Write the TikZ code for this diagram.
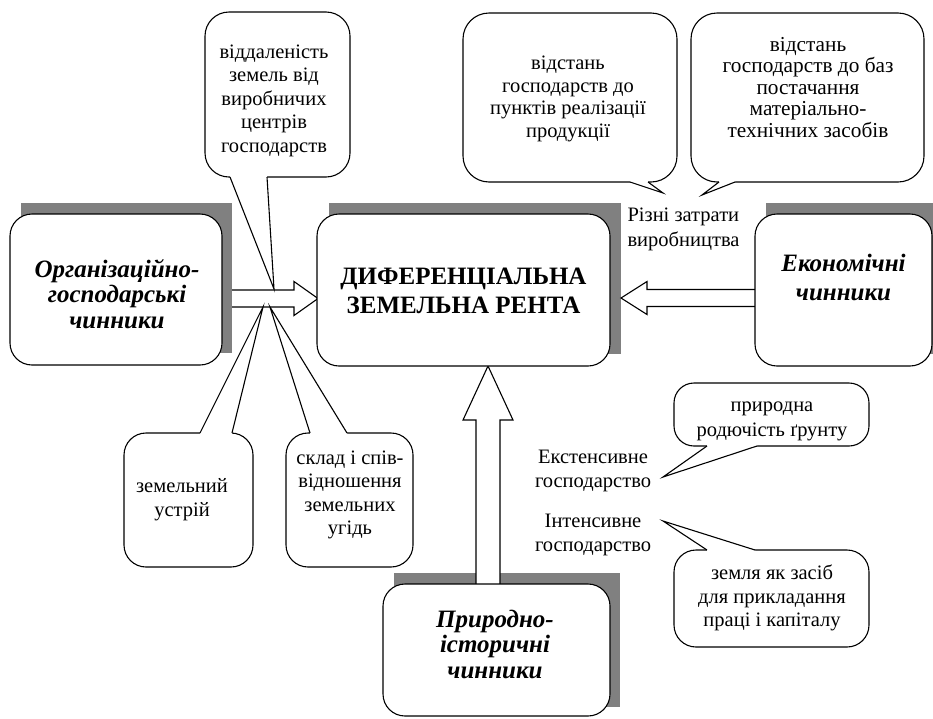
\documentclass[tikz,border=0pt]{standalone}
\usepackage{fontspec}
\setmainfont{Liberation Serif}
\definecolor{shadowgray}{HTML}{808080}
% multi-line block whose baseline is the first line; exact \baselineskip
\newcommand{\mltab}[2][\hfil]{\vtop{\lineskiplimit=-100pt\relax\let\\\cr\halign{#1##\hfil\cr#2\crcr}}}
% tail of a callout: base x1,y1 / x2,y2 ; tip tx,ty ; inward shift dy
\newcommand{\calltail}[7]{%
  \fill[white] (#1,#2+#7) -- (#1,#2) -- (#5,#6) -- (#3,#4) -- (#3,#4+#7) -- cycle;
  \draw (#1,#2) -- (#5,#6) -- (#3,#4);}
\begin{document}
\begin{tikzpicture}[x=1pt,y=-1pt,line width=1.1pt,line join=miter,
  mainbox/.style={draw, fill=white, rounded corners=22pt, inner sep=0pt},
  callbox/.style={draw, fill=white, rounded corners=#1, inner sep=0pt},
  callbox/.default=22pt,
  txt/.style={inner sep=0pt, anchor=base, font=\fontsize{20.5}{23.5}\selectfont},
  bi/.style={inner sep=0pt, anchor=base, font=\fontsize{25}{25.5}\selectfont\bfseries\itshape},
  blockarrow/.style={draw, fill=white}]
\useasboundingbox (0,0) rectangle (933,718);

% shadows
\fill[shadowgray] (21,203) rectangle (232,353);
\fill[shadowgray] (329,203) rectangle (621,354);
\fill[shadowgray] (766,203) rectangle (943,354);
\fill[shadowgray] (394,573) rectangle (620,707);

% block arrows
\draw[blockarrow] (232,290) -- (294,290) -- (294,281.5) -- (318,298.5) -- (294,315.5) -- (294,307) -- (232,307);
\draw[blockarrow] (755,289.5) -- (647,289.5) -- (647,281.5) -- (621,298) -- (647,314.5) -- (647,306.5) -- (755,306.5);
\draw[blockarrow] (476,584) -- (476,420) -- (463,420) -- (488,366) -- (513,420) -- (500,420) -- (500,584);

% main boxes
\node[mainbox, minimum width=212pt, minimum height=151pt] (org) at (116,289.5) {};
\node[mainbox, minimum width=293pt, minimum height=152pt] (rent) at (463.5,290) {};
\node[mainbox, minimum width=177pt, minimum height=152pt] (econ) at (843.5,290) {};
\node[mainbox, minimum width=227pt, minimum height=132pt] (nat) at (496.5,650) {};

\node[bi] (orgtxt) at (117,277) {\mltab{Організаційно-\\господарські\\чинники}};
\node[inner sep=0pt, anchor=base, font=\fontsize{25}{29.5}\selectfont\bfseries] (renttxt) at (463.5,284) {\mltab{ДИФЕРЕНЦІАЛЬНА\\ЗЕМЕЛЬНА РЕНТА}};
\node[bi, font=\fontsize{25}{28.5}\selectfont\bfseries\itshape] (econtxt) at (843.5,271.5) {\mltab{Економічні\\чинники}};
\node[bi] (nattxt) at (495,627) {\mltab{Природно-\\історичні\\чинники}};

% callouts
\node[callbox=24pt, minimum width=145pt, minimum height=165pt] (cA) at (277.5,94.5) {};
\calltail{230}{177}{267}{177}{274}{289}{-2}
\node[txt, font=\fontsize{20.5}{23.5}\selectfont] (cAtxt) at (274,58) {\mltab{віддаленість\\земель від\\виробничих\\центрів\\господарств}};

\node[callbox=26pt, minimum width=214pt, minimum height=169pt] (cB) at (570,97.5) {};
\calltail{630}{182}{648}{182}{663}{193}{-2}
\node[txt, font=\fontsize{20.5}{22.5}\selectfont] (cBtxt) at (568,69.5) {\mltab{відстань\\господарств до\\пунктів реалізації\\продукції}};

\node[callbox=26pt, minimum width=233pt, minimum height=169pt] (cC) at (807.5,97.5) {};
\calltail{719}{182}{735}{182}{702}{195}{-2}
\node[txt, font=\fontsize{21.3}{21.6}\selectfont] (cCtxt) at (808,51) {\mltab{відстань\\господарств до баз\\постачання\\матеріально-\\технічних засобів}};

\node[callbox=22pt, minimum width=129pt, minimum height=134pt] (cD) at (188.5,500) {};
\calltail{200}{433}{232}{433}{263}{307}{2}
\node[txt, font=\fontsize{20.5}{24}\selectfont] (cDtxt) at (182,492) {\mltab{земельний\\устрій}};

\node[callbox=22pt, minimum width=127pt, minimum height=134pt] (cE) at (349.5,500) {};
\calltail{310}{433}{347}{433}{270}{307}{2}
\node[txt, font=\fontsize{20.5}{23.3}\selectfont] (cEtxt) at (350,464.5) {\mltab{склад і спів-\\відношення\\земельних\\угідь}};

\node[callbox=20pt, minimum width=195pt, minimum height=63pt] (cF) at (771.5,414.5) {};
\calltail{707}{446}{757}{446}{663}{477}{-2}
\node[txt, font=\fontsize{20.5}{25}\selectfont] (cFtxt) at (772,411) {\mltab{природна\\родючість ґрунту}};

\node[callbox=22pt, minimum width=195pt, minimum height=97pt] (cG) at (771.5,598.5) {};
\calltail{707}{550}{755}{550}{663}{521}{2}
\node[txt, font=\fontsize{20.5}{23.5}\selectfont] (cGtxt) at (772,579.5) {\mltab{земля як засіб\\для прикладання\\праці і капіталу}};

% free labels
\node[txt, anchor=base west, font=\fontsize{20.5}{25}\selectfont] (costs) at (627,221.5) {\mltab[]{Різні затрати\\виробництва}};
\node[txt, font=\fontsize{20.5}{24}\selectfont] (ext) at (593,463) {\mltab{Екстенсивне\\господарство}};
\node[txt, font=\fontsize{20.5}{24}\selectfont] (int) at (593,527) {\mltab{Інтенсивне\\господарство}};
\end{tikzpicture}
\end{document}
